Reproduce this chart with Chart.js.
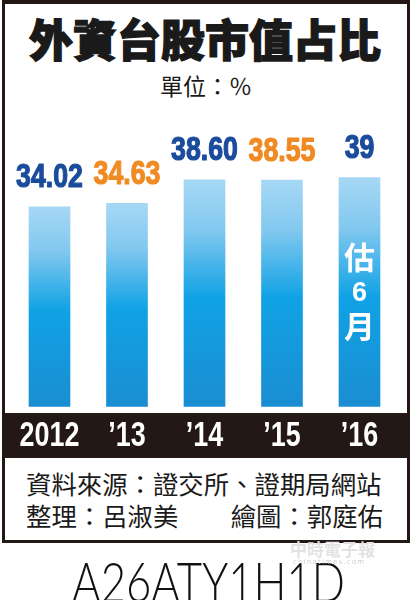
<!DOCTYPE html>
<html><head><meta charset="utf-8">
<script src="https://cdn.jsdelivr.net/npm/chart.js@4.4.0/dist/chart.umd.min.js"></script>
<style>
html,body{margin:0;padding:0;background:#fff;width:410px;height:600px;overflow:hidden;}
.abs{position:absolute;white-space:nowrap;}
#frame{position:absolute;left:2px;top:0;width:402px;height:536px;border:3px solid #231815;border-top-width:4px;pointer-events:none;z-index:3;}
#title{left:0;top:16px;width:410px;text-align:center;font:900 44px/44px "Noto Sans CJK TC","Noto Sans CJK SC",sans-serif;color:#1a1a1a;-webkit-text-stroke:1.3px #1a1a1a;}
#unit{left:0;top:74px;width:412px;text-align:center;font:400 23px/23px "Noto Sans CJK TC",sans-serif;color:#1a1a1a;}
.src{font:400 25.4px/25.4px "Noto Sans CJK TC",sans-serif;color:#1a1a1a;}
#src1{left:26px;top:471px;}
#src2{left:26px;top:503px;}
#src3{right:27px;top:503px;}
#code{left:72px;top:553px;font:300 56px/56px "Lato","Roboto",sans-serif;color:#111;transform-origin:0 0;}
#wm{left:290px;top:540px;font:700 17px/17px "Noto Sans CJK TC",sans-serif;color:#e2e2e2;z-index:4;}
#wm2{left:293px;top:559px;font:400 7px/7px "DejaVu Sans",sans-serif;color:#cfcfcf;letter-spacing:1.2px;z-index:4;}
#cv{position:absolute;left:0;top:100px;}
</style></head>
<body>
<div id="frame"></div>
<div class="abs" id="title">外資台股市值占比</div>
<div class="abs" id="unit">單位：％</div>
<canvas id="cv" width="410" height="358"></canvas>
<div class="abs src" id="src1">資料來源：證交所、證期局網站</div>
<div class="abs src" id="src2">整理：呂淑美</div>
<div class="abs src" id="src3">繪圖：郭庭佑</div>
<div class="abs" id="code">A26ATY1H1D</div>
<div class="abs" id="wm">中時電子報</div>
<div class="abs" id="wm2">chinatimes.com</div>
<script>
// ---- data ----
const categories = ['2012', '’13', '’14', '’15', '’16'];
const shares = [34.02, 34.63, 38.60, 38.55, 39];
const valueLabels = ['34.02', '34.63', '38.60', '38.55', '39'];
const labelColors = ['#1b4c9c', '#f08a22', '#1b4c9c', '#f08a22', '#1b4c9c'];
const noteLines = ['估', '6', '月'];
const noteIndex = 4;
const yMin = 0, yMax = 45;

// ---- styles ----
const BAND = '#231815';
const TICK_SQUEEZE = 0.77;
function barGradient(c) {
  const chart = c.chart, y = chart.scales.y;
  if (!y || !chart.chartArea || c.type !== 'data') return '#0aa0e6';
  const top = y.getPixelForValue(c.raw), bot = y.getPixelForValue(0);
  const g = chart.ctx.createLinearGradient(0, top, 0, bot);
  g.addColorStop(0, '#a6d8f5');
  g.addColorStop(0.22, '#82c8ef');
  g.addColorStop(0.52, '#10a2e5');
  g.addColorStop(1, '#1b8dd2');
  return g;
}

const bandPlugin = {
  id: 'band',
  afterLayout(chart) {
    // draw the axis tick labels condensed (narrow bold face)
    const sx = chart.scales.x;
    if (sx._narrow) return;
    sx._narrow = true;
    sx.drawLabels = function (area) {
      const ctx = this.ctx;
      for (const it of this.getLabelItems(area)) {
        const o = it.options;
        ctx.save();
        ctx.translate(o.translation[0], o.translation[1]);
        ctx.scale(TICK_SQUEEZE, 1);
        ctx.font = it.font.string;
        ctx.fillStyle = o.color;
        ctx.textAlign = o.textAlign;
        ctx.textBaseline = o.textBaseline;
        ctx.fillText(it.label, 0, it.textOffset);
        ctx.restore();
      }
    };
  },
  beforeDraw(chart) {
    const c = chart.ctx, x = chart.scales.x;
    c.save();
    c.fillStyle = BAND;
    c.fillRect(5, x.top + 6.3, 402, chart.height - x.top - 6.3);
    c.restore();
  }
};

const labelPlugin = {
  id: 'vals',
  afterDatasetsDraw(chart) {
    const c = chart.ctx, meta = chart.getDatasetMeta(0);
    c.save();
    meta.data.forEach((el, i) => {
      c.save();
      c.translate(el.x, el.y - 19.5);
      c.scale(0.81, 1);
      c.font = 'bold 33px "Liberation Sans", Arial, sans-serif';
      c.textAlign = 'center';
      c.textBaseline = 'alphabetic';
      c.fillStyle = labelColors[i];
      c.strokeStyle = labelColors[i];
      c.lineWidth = 1.2;
      c.lineJoin = 'round';
      c.fillText(valueLabels[i], 0, 0);
      c.strokeText(valueLabels[i], 0, 0);
      c.restore();
    });
    const el = meta.data[noteIndex];
    c.fillStyle = '#fff';
    c.textAlign = 'center';
    c.textBaseline = 'middle';
    const offs = [80, 115.5, 149];
    const fonts = ['bold 31px "Noto Sans CJK TC",sans-serif', 'bold 27px "Liberation Sans",sans-serif', 'bold 31px "Noto Sans CJK TC",sans-serif'];
    noteLines.forEach((t, k) => {
      c.font = fonts[k];
      c.fillText(t, el.x, el.y + offs[k]);
    });
    c.restore();
  }
};

function draw() {
  new Chart(document.getElementById('cv'), {
    type: 'bar',
    data: {
      labels: categories,
      datasets: [{ data: shares, backgroundColor: barGradient, borderWidth: 0, barThickness: 41 }]
    },
    options: {
      responsive: false, animation: false, devicePixelRatio: 1,
      layout: { padding: { top: 42.3, left: 10.75, right: 11.75, bottom: 0 } },
      plugins: { legend: { display: false }, tooltip: { enabled: false }, title: { display: false } },
      scales: {
        x: {
          grid: { display: false, drawTicks: false },
          border: { display: false },
          ticks: {
            color: '#fff', padding: 9, maxRotation: 0, autoSkip: false,
            font: { family: '"Liberation Sans",Arial,sans-serif', size: 35, weight: 'bold' }
          },
          afterFit(s) { s.height = 51.3; }
        },
        y: { display: false, min: yMin, max: yMax }
      }
    },
    plugins: [bandPlugin, labelPlugin]
  });
  const code = document.getElementById('code');
  const w = code.getBoundingClientRect().width;
  code.style.transform = 'scaleX(' + (273 / w) + ')';
}
(document.fonts && document.fonts.ready ? document.fonts.ready : Promise.resolve()).then(draw);
</script>
</body></html>
